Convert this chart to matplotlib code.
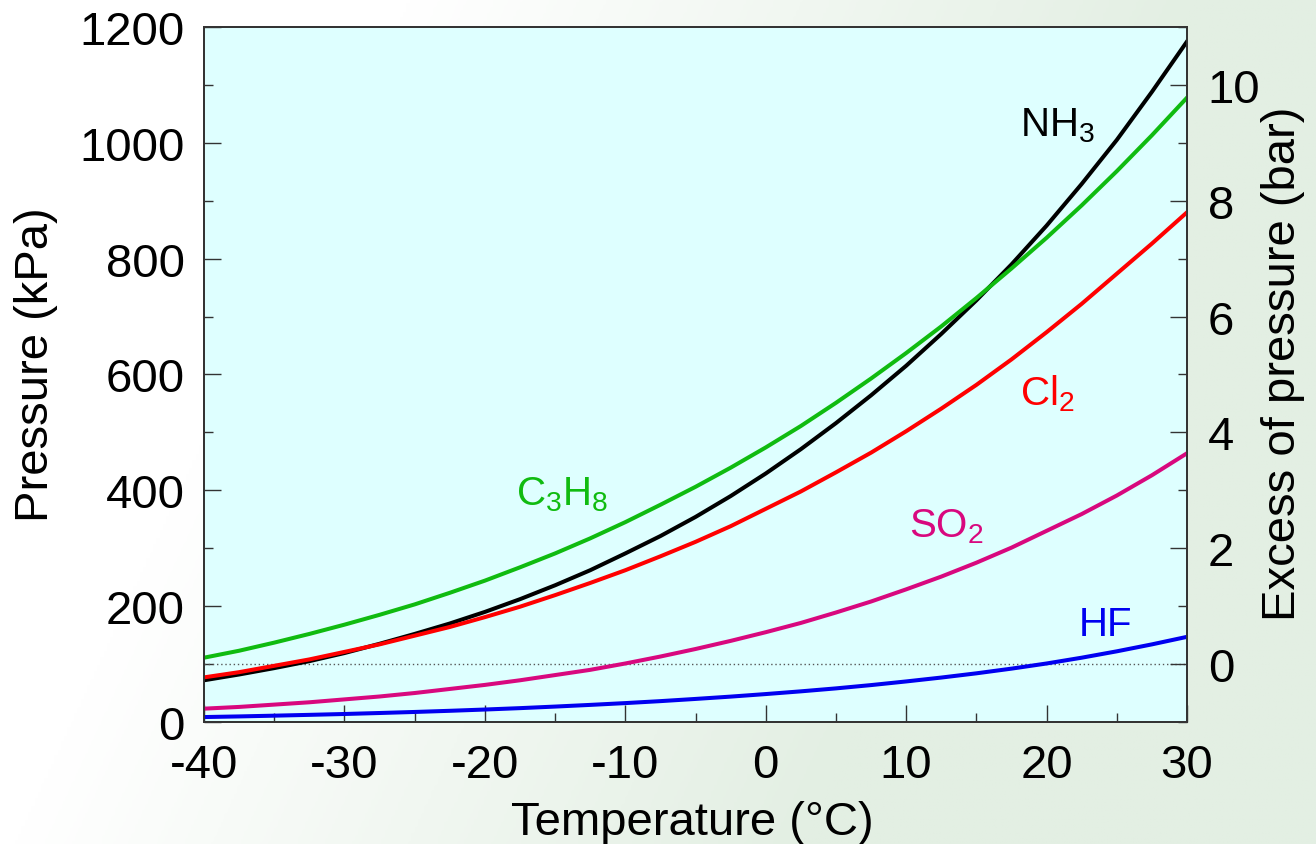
"""
Vapour pressure of liquefied gases vs temperature
(left: absolute pressure in kPa, right: excess pressure in bar)
"""
import numpy as np
import matplotlib
matplotlib.use('Agg')
import matplotlib.pyplot as plt
from matplotlib.ticker import MultipleLocator
from matplotlib.colors import LinearSegmentedColormap

plt.rcParams['font.family'] = ['Liberation Sans', 'DejaVu Sans']
plt.rcParams['axes.unicode_minus'] = False
plt.rcParams['mathtext.fontset'] = 'custom'
plt.rcParams['mathtext.rm'] = 'Liberation Sans'
plt.rcParams['mathtext.default'] = 'regular'

# Temperature (°C) and vapour pressure (kPa)
temps = [-40, -37.5, -35, -32.5, -30, -27.5, -25, -22.5, -20, -17.5, -15, -12.5,
         -10, -7.5, -5, -2.5, 0, 2.5, 5, 7.5, 10, 12.5, 15, 17.5, 20, 22.5,
         25, 27.5, 30]
nh3 = [72, 82, 93, 105, 119, 135, 152, 170, 190, 212, 236, 262, 291, 321, 354,
       390, 429, 471, 516, 564, 615, 670, 728, 790, 857, 929, 1005, 1088, 1175]
c3h8 = [111, 123, 137, 152, 168, 185, 203, 223, 244, 267, 291, 317, 345, 375,
        406, 439, 474, 511, 551, 593, 637, 683, 732, 783, 836, 892, 951, 1013, 1078]
cl2 = [77, 86, 97, 108, 121, 134, 149, 164, 181, 199, 219, 240, 262, 286, 311,
       338, 368, 398, 431, 465, 502, 541, 582, 626, 673, 722, 774, 826, 880]
so2 = [23, 26, 30, 34, 39, 44, 50, 57, 64, 72, 81, 90, 101, 113, 126, 140, 155,
       171, 189, 208, 229, 251, 275, 301, 330, 359, 391, 426, 464]
hf = [8.5, 9.6, 10.9, 12.3, 13.8, 15.5, 17.3, 19.3, 21.5, 23.9, 26.6, 29.5,
      32.6, 36.0, 39.8, 43.8, 48.2, 52.9, 58, 63.7, 70, 76.7, 84, 92.1, 101,
      111, 122, 134, 147]

series = [
    (nh3, '#000000', 'NH$_3$', 18.1, 1012),
    (c3h8, '#10BB10', 'C$_3$H$_8$', -17.8, 376),
    (cl2, '#FF0000', 'Cl$_2$', 18.1, 549),
    (so2, '#D8087E', 'SO$_2$', 10.2, 321),
    (hf, '#0000F0', 'HF', 22.3, 150),
]

ATM = 100  # kPa, zero of the excess-pressure scale

fig = plt.figure(figsize=(13.16, 8.45), dpi=100)

# soft white -> pale green background
bg = fig.add_axes([0, 0, 1, 1], zorder=-10)
gx = np.linspace(0, 1, 400)
gy = np.linspace(0, 1, 300)
X, Y = np.meshgrid(gx, gy)
w = np.clip((X - 0.25) / 0.6 + (1 - Y) * 0.5 - 0.1, 0, 1)
bg_cmap = LinearSegmentedColormap.from_list('bg', ['#FFFFFF', '#E3EFE3'])
bg.imshow(w, cmap=bg_cmap, aspect='auto', extent=[0, 1, 0, 1], origin='lower')
bg.axis('off')

ax = fig.add_axes([0.155, 0.1444, 0.747, 0.8225])
ax.set_facecolor('#DEFFFF')

for vals, color, label, tx, ty in series:
    ax.plot(temps, vals, color=color, lw=2.9, solid_joinstyle='round', zorder=3)
    ax.text(tx, ty, label, color=color, fontsize=29, ha='left', va='baseline', zorder=4)

ax.axhline(ATM, color='#555555', ls=(0, (1, 2)), lw=1.0, zorder=2)

ax.set_xlim(-40, 30)
ax.set_ylim(0, 1200)
ax.xaxis.set_major_locator(MultipleLocator(10))
ax.xaxis.set_minor_locator(MultipleLocator(5))
ax.yaxis.set_major_locator(MultipleLocator(200))
ax.yaxis.set_minor_locator(MultipleLocator(100))
ax.tick_params(which='both', direction='in', labelsize=34, color='#333333',
               top=False, right=False)
ax.tick_params(which='major', length=12.5, width=1.0)
ax.tick_params(which='minor', length=6.5, width=1.0)
ax.tick_params(axis='y', pad=14)
ax.tick_params(axis='x', pad=15)

# excess pressure axis (bar): 0 bar at 100 kPa
ax2 = ax.twinx()
ax2.set_ylim((0 - ATM) / 100, (1200 - ATM) / 100)
ax2.yaxis.set_major_locator(MultipleLocator(2))
ax2.yaxis.set_minor_locator(MultipleLocator(1))
ax2.tick_params(which='both', direction='in', labelsize=34, color='#333333', pad=15)
ax2.tick_params(which='major', length=12.5, width=1.0)
ax2.tick_params(which='minor', length=6.5, width=1.0)
ax2.set_yticks([0, 2, 4, 6, 8, 10])

for a in (ax, ax2):
    for sp in a.spines.values():
        sp.set_color('#333333')
        sp.set_linewidth(1.3)

fig.text(0.027, 0.568, 'Pressure (kPa)', rotation=90, fontsize=34,
         ha='center', va='center')
fig.text(0.975, 0.569, 'Excess of pressure (bar)', rotation=90, fontsize=34,
         ha='center', va='center')
fig.text(0.526, 0.026, 'Temperature (°C)', fontsize=34, ha='center', va='center')

fig.savefig('out.png', dpi=100)
